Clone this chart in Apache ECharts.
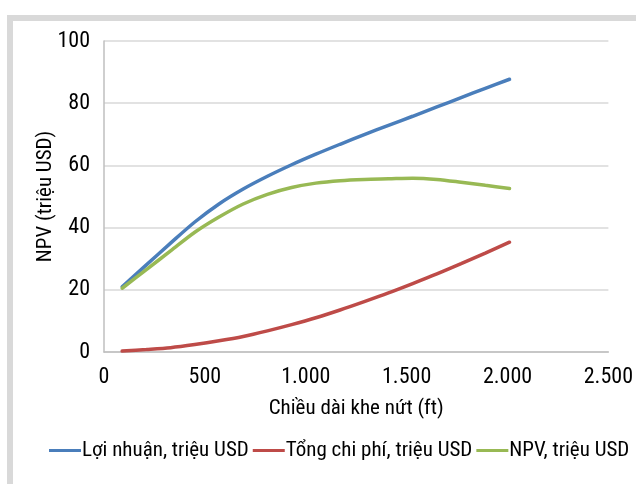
<!DOCTYPE html>
<html><head><meta charset="utf-8">
<script src="https://cdn.jsdelivr.net/npm/echarts@6/dist/echarts.min.js"></script>
<style>html,body{margin:0;padding:0;background:#fff}#c{width:636px;height:484px}</style>
</head><body><div id="c"></div>
<script>
const xValues = [90, 210, 330, 450, 570, 690, 810, 930, 1050, 1170, 1290, 1410, 1530, 1650, 1770, 1890, 2010];
const loiNhuan = [21, 28, 35, 41.8, 47.6, 52.4, 56.5, 60.2, 63.6, 66.8, 69.9, 72.9, 75.8, 78.8, 81.8, 84.8, 87.7];
const tongChiPhi = [0.3, 0.8, 1.4, 2.4, 3.6, 5.0, 6.8, 8.8, 11, 13.5, 16.2, 19, 22, 25.1, 28.4, 31.8, 35.3];
const npv = [20.5, 26.5, 32.5, 38.5, 43.4, 47.6, 50.7, 52.9, 54.3, 55.1, 55.5, 55.7, 55.9, 55.5, 54.6, 53.6, 52.6];
const seriesNames = ['Lợi nhuận, triệu USD', 'Tổng chi phí, triệu USD', 'NPV, triệu USD'];
const colors = ['#4a7ebb', '#be4b48', '#98b954'];
const FONT = '"Roboto Condensed", "Open Sans Condensed", "DejaVu Sans Condensed", sans-serif';
const TXT = { fontFamily: FONT, fontSize: 21, color: '#000' };

const pairs = arr => xValues.map((x, i) => [x, arr[i]]);
const chart = echarts.init(document.getElementById('c'));
chart.setOption({
  animation: false,
  textStyle: { fontFamily: FONT },
  graphic: [{ type: 'rect', silent: true, z: -1,
    shape: { x: 10, y: 18, width: 700, height: 600 },
    style: { fill: 'none', stroke: '#d9d9d9', lineWidth: 6 } }],
  grid: { left: 104, right: 27, top: 41, bottom: 132 },
  legend: {
    left: 44, top: 435, itemWidth: 32, itemHeight: 3, itemGap: 4, icon: 'rect',
    textStyle: Object.assign({}, TXT, { padding: [0, 0, 0, -4] }),
    data: seriesNames
  },
  xAxis: {
    type: 'value', min: 0, max: 2500, interval: 500,
    name: 'Chiều dài khe nứt (ft)', nameLocation: 'middle', nameGap: 46,
    nameTextStyle: TXT,
    axisLine: { lineStyle: { color: '#bfbfbf', width: 1.5 } },
    axisTick: { show: false },
    splitLine: { show: false },
    axisLabel: Object.assign({}, TXT, { fontSize: 22, margin: 14,
      formatter: v => String(v).replace(/\B(?=(\d{3})+(?!\d))/g, '.') })
  },
  yAxis: {
    type: 'value', min: 0, max: 100, interval: 20,
    name: 'NPV (triệu USD)', nameLocation: 'middle', nameGap: 48, nameMoveOverlap: false,
    nameTextStyle: TXT,
    axisLine: { show: true, lineStyle: { color: '#bfbfbf', width: 1.5 } },
    axisTick: { show: false },
    splitLine: { lineStyle: { color: '#d9d9d9', width: 1.5 } },
    axisLabel: Object.assign({}, TXT, { fontSize: 22, margin: 14 })
  },
  series: [loiNhuan, tongChiPhi, npv].map((d, i) => ({
    name: seriesNames[i], type: 'line', data: pairs(d), smooth: 0.3,
    showSymbol: false, symbol: 'none', color: colors[i],
    lineStyle: { width: 3.5, color: colors[i], cap: 'round' }
  }))
});
</script></body></html>
